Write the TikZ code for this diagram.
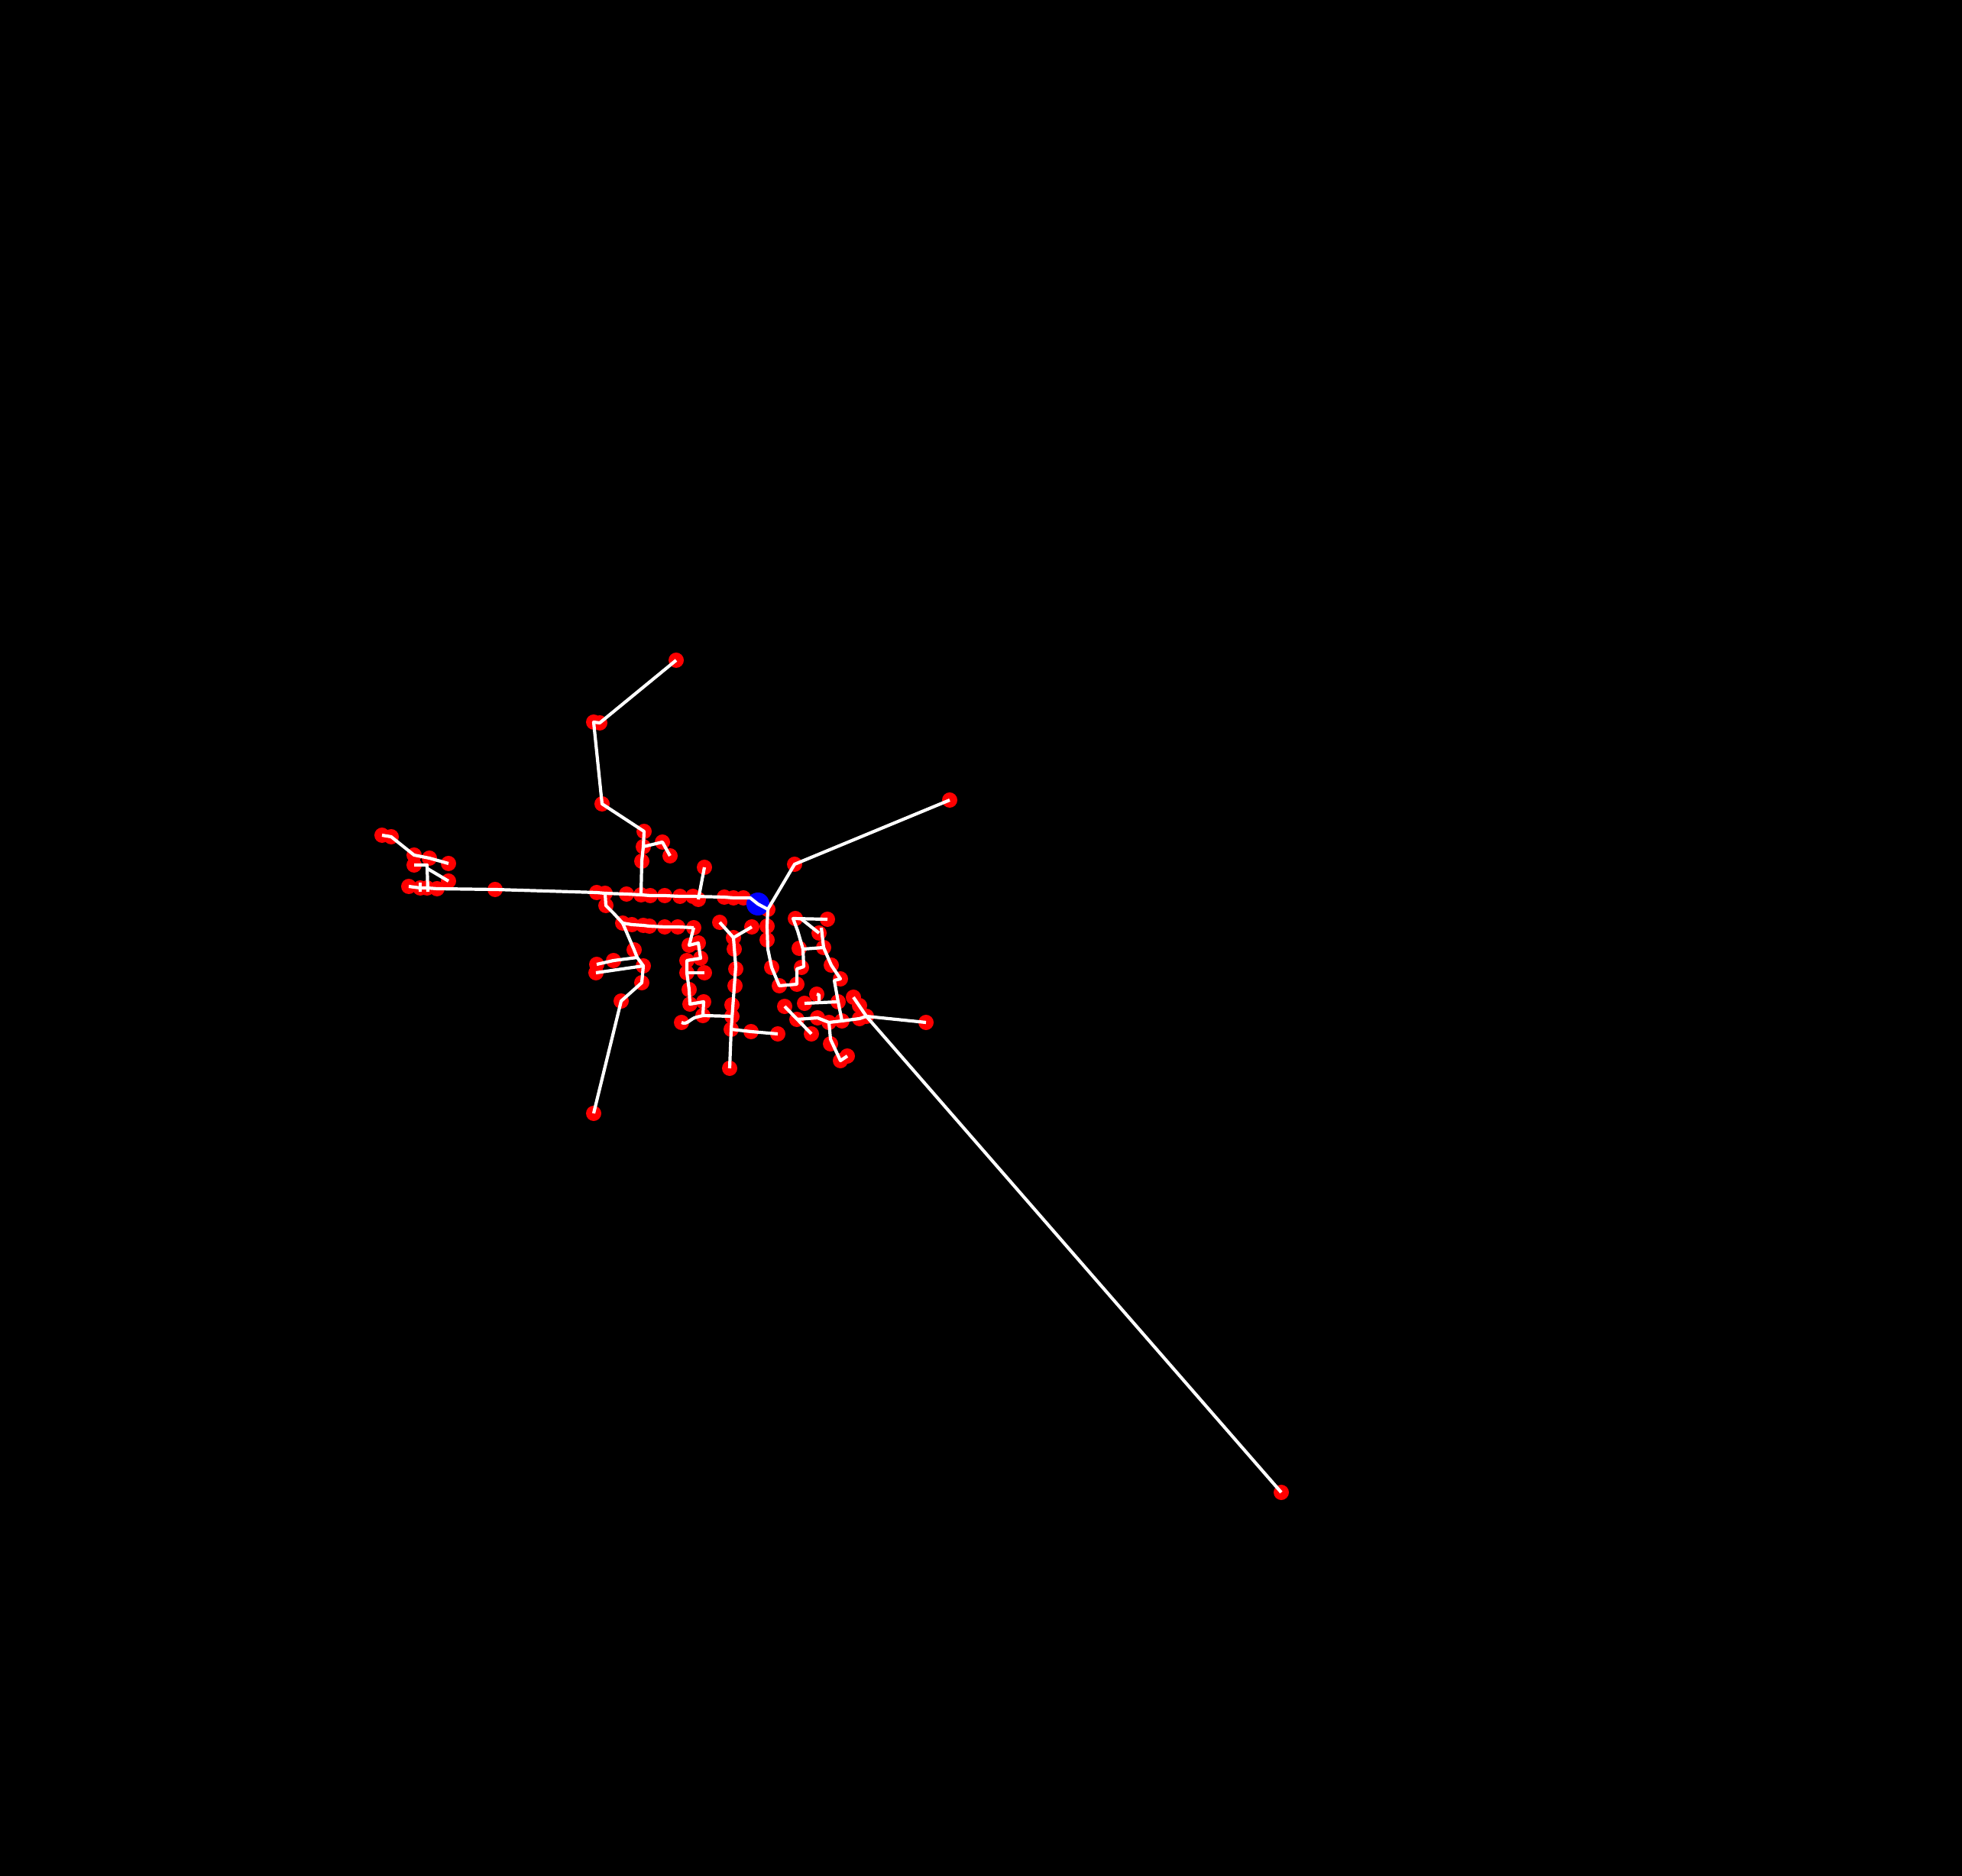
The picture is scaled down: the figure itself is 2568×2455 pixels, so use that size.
\documentclass[tikz,border=0pt]{standalone}
\begin{document}
\begin{tikzpicture}[x=0.01cm,y=-0.01cm,
  bus/.style={circle,fill=red,draw=none,inner sep=0pt,minimum size=0.2cm},
  src/.style={circle,fill=blue,draw=none,inner sep=0pt,minimum size=0.3cm},
  link/.style={draw=white,line width=0.042cm,line join=round}]
\fill[black] (0,0) rectangle (2568,2455);
\useasboundingbox (0,0) rectangle (2568,2455);
% ---------- buses ----------
\foreach \n/\x/\y in {
 t1/885/864, t2/785/946, t2b/777/945, t3/788/1052, t4/843/1088, t5/842/1108, t6/840/1127, t7/867/1102, t8/877/1120,
 a1/500/1093, a2/512/1095, a3/542/1119, a4/562/1123, a5/587/1130, a6/542/1132, a7/587/1153,
 a8/535/1160, a9/550/1162, a10/559/1162, a11/572/1163, a12/648/1164,
 m1/781/1168, m2/792/1169, m3/820/1170, m4/839/1171, m5/851/1172, m6/870/1172, m7/890/1173, m8/907/1173,
 m9/914/1177, m10/948/1174, m11/960/1175, m12/973/1175, p1/922/1135,
 s0/793/1185, s1/815/1208, s2/827/1210, s3/842/1211, s4/850/1212, s5/870/1213, s6/887/1213, s7/908/1214,
 u1/830/1243, u3/842/1264, u4/840/1286, u5/813/1310, u6/777/1457, v1/781/1262, v1b/803/1257, v2/780/1273,
 w1/902/1237, w2/914/1234, w3/917/1254, w4/899/1257, w5/899/1273, w5b/922/1273, w6/902/1295, w7/903/1314,
 w8/921/1311, w9/920/1329, w10/892/1338,
 y1/942/1207, y2/960/1227, y3/984/1213, yn1/961/1242, yn2/963/1268, yn3/962/1290, yn4/958/1315,
 x1/958/1330, x2/957/1347, x3/955/1398, x4/983/1350, x5/1018/1353,
 r0/1005/1190, r1/1004/1212, r1b/1004/1230, r3/1010/1266, r4/1020/1290, q1/1040/1131, q2/1243/1047,
 r5/1043/1288, r6/1049/1266, r7/1046/1241, r9/1041/1202, r10/1083/1203, r11/1072/1221, r12/1078/1240,
 r13/1088/1263, r14/1100/1281, r16/1097/1311, r17/1102/1336,
 z1/1043/1334, z2/1070/1332, z3/1085/1338, z4/1125/1333, z5/1134/1330, z6/1212/1338, far/1677/1953,
 z7/1117/1305, z7b/1125/1316, z8/1087/1366, z9/1100/1388, z10/1109/1382, z11/1027/1317, z12/1062/1353,
 z13/1053/1313, z14/1069/1301}
 \node[bus] (\n) at (\x,\y) {};
\node[src] (B) at (992,1183) {};
% ---------- bend points ----------
\coordinate (j1) at (559,1132);
\coordinate (j1b) at (560,1137);
\coordinate (a9t) at (550,1155);
\coordinate (a9u) at (550,1167);
\coordinate (a10u) at (560,1167);
\coordinate (bj) at (982,1175);
\coordinate (sb) at (803,1195);
\coordinate (ub) at (834,1253);
\coordinate (wb) at (912,1331);
\coordinate (yv) at (963,1265);
\coordinate (rb1) at (1043,1268);
\coordinate (rb2) at (1052,1265);
\coordinate (rb3) at (1051,1242);
\coordinate (rb4) at (1044,1218);
\coordinate (rb5) at (1038,1202);
\coordinate (rb6) at (1048,1202);
\coordinate (rb7) at (1075,1214);
\coordinate (rb8) at (1092,1283);
\coordinate (zb1) at (1087,1360);
\coordinate (zb2) at (1072,1302);
\coordinate (zb3) at (1072,1312);
\coordinate (rv) at (1005,1242);
% ---------- lines ----------
\draw[link] (t1.center) -- (t2.center) -- (t2b.center) -- (t3.center) -- (t4.center) -- (t5.center) -- (t6.center) -- (m4.center);
\draw[link] (t5.center) -- (t7.center) -- (t8.center);
\draw[link] (a1.center) -- (a2.center) -- (a3.center) -- (a4.center) -- (a5.center);
\draw[link] (a6.center) -- (j1) -- (a10u);
\draw[link] (j1b) -- (a7.center);
\draw[link] (a9t) -- (a9u);
\draw[link] (a8.center) -- (a9.center) -- (a10.center) -- (a11.center) -- (a12.center) -- (m1.center) -- (m2.center) -- (m3.center) -- (m4.center) -- (m5.center) -- (m6.center) -- (m7.center) -- (m8.center) -- (m10.center) -- (m11.center) -- (m12.center) -- (bj) -- (B.center) -- (r0.center);
\draw[link] (p1.center) -- (m9.center);
\draw[link] (m2.center) -- (s0.center) -- (sb) -- (s1.center) -- (s2.center) -- (s3.center) -- (s4.center) -- (s5.center) -- (s6.center) -- (s7.center);
\draw[link] (s1.center) -- (u1.center) -- (ub) -- (u3.center) -- (u4.center) -- (u5.center) -- (u6.center);
\draw[link] (v1.center) -- (v1b.center) -- (ub);
\draw[link] (v2.center) -- (u3.center);
\draw[link] (s7.center) -- (w1.center) -- (w2.center) -- (w3.center) -- (w4.center) -- (w5.center) -- (w6.center) -- (w7.center) -- (w8.center) -- (w9.center) -- (x1.center);
\draw[link] (w5.center) -- (w5b.center);
\draw[link] (w10.center) to[out=-30,in=190] (wb) -- (w9.center);
\draw[link] (y1.center) -- (y2.center) -- (y3.center);
\draw[link] (y2.center) -- (yv) -- (x2.center) -- (x3.center);
\draw[link] (x2.center) -- (x4.center) -- (x5.center);
\draw[link] (r0.center) -- (q1.center) -- (q2.center);
\draw[link] (r0.center) -- (r1.center) -- (rv) -- (r3.center) -- (r4.center) -- (r5.center) -- (rb1) -- (rb2) -- (rb3) -- (rb4) -- (rb5) -- (r10.center);
\draw[link] (rb6) -- (r11.center);
\draw[link] (rb7) -- (r12.center);
\draw[link] (rb3) -- (r12.center) -- (r13.center) -- (r14.center) -- (rb8) -- (r16.center) -- (r17.center);
\draw[link] (z1.center) -- (z2.center) -- (z3.center) -- (r17.center) -- (z4.center) -- (z5.center) -- (z6.center);
\draw[link] (z7.center) -- (z5.center) -- (far.center);
\draw[link] (z3.center) -- (zb1) -- (z9.center) -- (z10.center);
\draw[link] (z11.center) -- (z12.center);
\draw[link] (z13.center) -- (r16.center);
\draw[link] (z14.center) -- (zb2) -- (zb3);
\end{tikzpicture}
\end{document}
